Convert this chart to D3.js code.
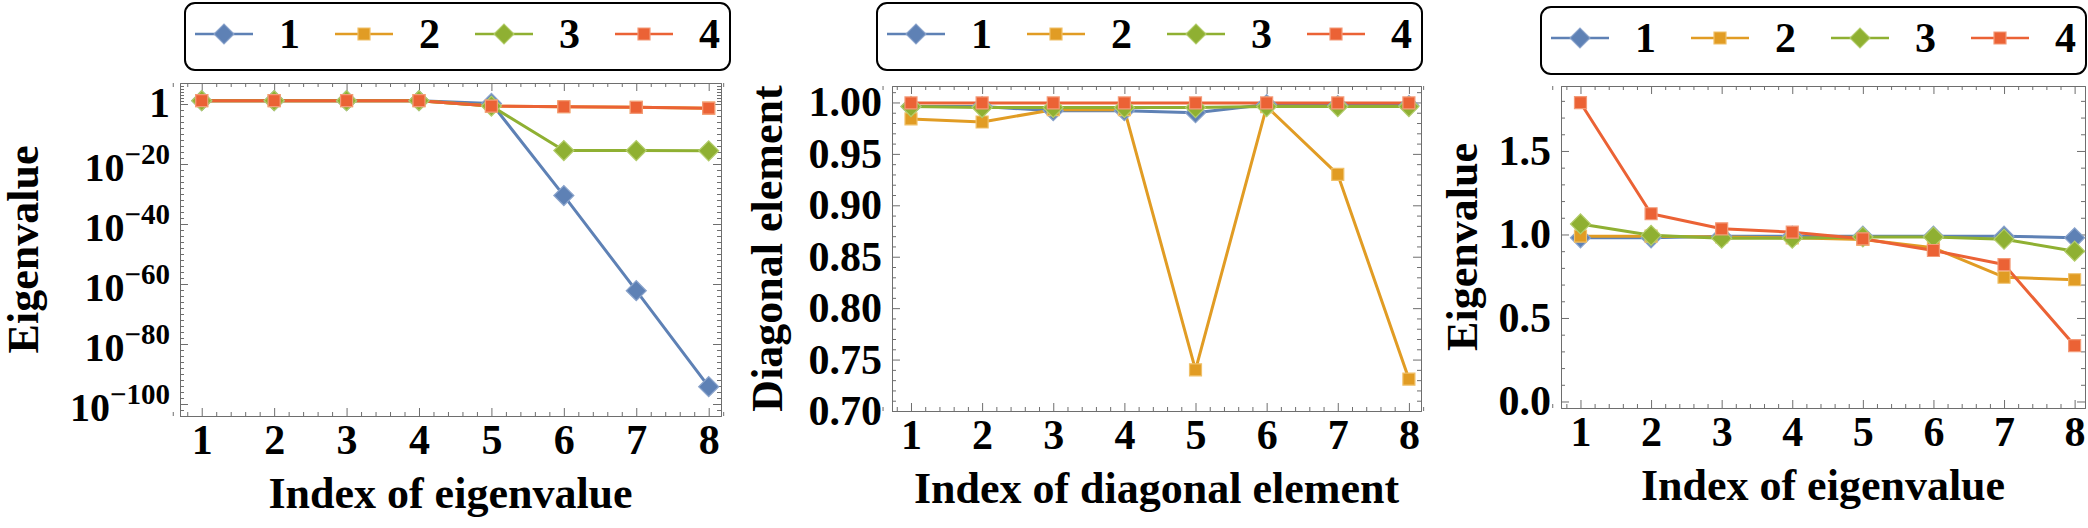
<!DOCTYPE html>
<html>
<head>
<meta charset="utf-8">
<title>Eigenvalues and diagonal elements</title>
<script src="https://cdn.jsdelivr.net/npm/d3@7"></script>
<style>
  body { margin: 0; background: #fff; }
  svg text { font-family: "Liberation Serif", "Times New Roman", serif; font-weight: bold; fill: #000; }
</style>
</head>
<body>
<svg id="chart" width="2088" height="528"></svg>
<script>
// x positions, shared by the three panels
var idx = [1, 2, 3, 4, 5, 6, 7, 8];
var seriesNames = ["1", "2", "3", "4"];
var colors = ["#5e81b5", "#e19c24", "#8fb032", "#eb6235"];
var edgeColors = ["#8aa3cb", "#f0c068", "#b2cc6a", "#f39a78"];
var shapes = ["diamond", "square", "diamond", "square"];

// left panel: eigenvalues (log axis)
var eigLog1 = [13, 13, 13, 13, 1.6, 3e-31, 6e-63, 6e-95];
var eigLog2 = [13, 13, 13, 13, 0.2, 0.12, 0.08, 0.04];
var eigLog3 = [13, 13, 13, 13, 0.2, 3e-16, 3e-16, 2.5e-16];
var eigLog4 = [13, 13, 13, 13, 0.2, 0.12, 0.08, 0.04];
var logTickExp = [0, -20, -40, -60, -80, -100];

// middle panel: diagonal elements
var diag1 = [0.996, 0.996, 0.992, 0.992, 0.990, 0.998, 0.997, 0.997];
var diag2 = [0.984, 0.981, 0.993, 0.993, 0.740, 0.996, 0.930, 0.731];
var diag3 = [0.996, 0.995, 0.995, 0.995, 0.995, 0.996, 0.996, 0.996];
var diag4 = [0.9995, 0.9995, 0.9995, 0.9995, 0.9995, 0.9995, 0.9995, 0.9995];
var diagTicks = [0.70, 0.75, 0.80, 0.85, 0.90, 0.95, 1.00];

// right panel: eigenvalues (linear axis)
var eig1 = [0.98, 0.98, 0.99, 0.99, 0.99, 0.99, 0.99, 0.98];
var eig2 = [0.99, 0.99, 0.985, 0.98, 0.97, 0.92, 0.744, 0.729];
var eig3 = [1.063, 0.995, 0.978, 0.978, 0.985, 0.985, 0.972, 0.90];
var eig4 = [1.789, 1.124, 1.034, 1.014, 0.974, 0.904, 0.820, 0.335];
var eigTicks = [0.0, 0.5, 1.0, 1.5];

var svg = d3.select("#chart");

var xMinor = d3.range(3, 42).filter(function (k) { return k % 5 != 0; }).map(function (k) { return k / 5; });

var panels = [
  {
    series: [eigLog1, eigLog2, eigLog3, eigLog4], log: true,
    left: 180, right: 721, top: 83, bottom: 416,
    xDomain: [0.70, 8.17], yDomain: [1e-104, 1e7],
    yMajor: logTickExp.map(function (e) { return Math.pow(10, e); }),
    yMinor: d3.range(-104, 7).filter(function (e) { return e % 20 != 0 && (e > 0 || e % 2 == 0); })
              .map(function (e) { return Math.pow(10, e); }),
    xTitle: "Index of eigenvalue", yTitle: "Eigenvalue", yTitleX: 38,
    legendX: 185, legendY: 3
  },
  {
    series: [diag1, diag2, diag3, diag4], log: false,
    left: 892, right: 1421, top: 86, bottom: 411,
    xDomain: [0.733, 8.17], yDomain: [0.70, 1.016],
    yMajor: diagTicks,
    yMinor: d3.range(70, 102).filter(function (k) { return k % 5 != 0; }).map(function (k) { return k / 100; }),
    yFormat: d3.format(".2f"),
    xTitle: "Index of diagonal element", yTitle: "Diagonal element", yTitleX: 782,
    legendX: 877, legendY: 3
  },
  {
    series: [eig1, eig2, eig3, eig4], log: false,
    left: 1561, right: 2085, top: 86, bottom: 408,
    xDomain: [0.724, 8.147], yDomain: [-0.039, 1.889],
    yMajor: eigTicks,
    yMinor: d3.range(0, 19).filter(function (k) { return k % 5 != 0; }).map(function (k) { return k / 10; }),
    yFormat: d3.format(".1f"),
    xTitle: "Index of eigenvalue", yTitle: "Eigenvalue", yTitleX: 1477,
    legendX: 1541, legendY: 7
  }
];

function markerPath(shape) {
  if (shape == "diamond") return d3.symbol(d3.symbolSquare, 200)();
  return d3.symbol(d3.symbolSquare, 144)();
}

function drawPanel(p) {
  var g = svg.append("g");
  var x = d3.scaleLinear().domain(p.xDomain).range([p.left, p.right]);
  var y = (p.log ? d3.scaleLog() : d3.scaleLinear()).domain(p.yDomain).range([p.bottom, p.top]);

  // frame: four axes with inward ticks, minor ones first
  var sides = [
    { fn: d3.axisBottom, s: x, major: idx, minor: xMinor, tr: "translate(0," + p.bottom + ")", labels: true },
    { fn: d3.axisTop, s: x, major: idx, minor: xMinor, tr: "translate(0," + p.top + ")" },
    { fn: d3.axisLeft, s: y, major: p.yMajor, minor: p.yMinor, tr: "translate(" + p.left + ",0)", labels: true },
    { fn: d3.axisRight, s: y, major: p.yMajor, minor: p.yMinor, tr: "translate(" + p.right + ",0)" }
  ];
  sides.forEach(function (sd) {
    g.append("g").attr("transform", sd.tr)
      .call(sd.fn(sd.s).tickValues(sd.minor).tickSize(-4).tickSizeOuter(0).tickFormat(""));
    var ax = sd.fn(sd.s).tickValues(sd.major).tickSize(-8).tickSizeOuter(0);
    if (!sd.labels) ax.tickFormat("");
    else if (sd.fn == d3.axisBottom) ax.tickPadding(8).tickFormat(d3.format("d"));
    else ax.tickPadding(10).tickFormat(p.log ? function () { return ""; } : p.yFormat);
    var ag = g.append("g").attr("transform", sd.tr).call(ax);
    ag.selectAll("text").style("font-size", "42px");
    if (sd.labels && p.log && sd.fn == d3.axisLeft) {
      ag.selectAll(".tick text").each(function (d, i) {
        var t = d3.select(this);
        var e = logTickExp[i];
        if (e == 0) {
          t.attr("dy", "0.3em").text("1");
        } else {
          t.style("font-size", "40px").attr("dy", "0.4em");
          t.append("tspan").text("10");
          t.append("tspan").attr("dy", -17).style("font-size", "29px").text("\u2212" + Math.abs(e));
        }
      });
    }
  });
  g.selectAll(".domain, .tick line").attr("stroke", "#6e6e6e").attr("stroke-width", 1);

  // lines, then markers
  var line = d3.line().x(function (d, i) { return x(idx[i]); }).y(function (d) { return y(d); });
  p.series.forEach(function (vals, s) {
    g.append("path").datum(vals).attr("d", line)
      .attr("fill", "none").attr("stroke", colors[s]).attr("stroke-width", 3)
      .attr("stroke-linejoin", "round");
  });
  p.series.forEach(function (vals, s) {
    g.selectAll(null).data(vals).enter().append("path")
      .attr("d", markerPath(shapes[s]))
      .attr("transform", function (d, i) {
        return "translate(" + x(idx[i]) + "," + y(d) + ")" + (shapes[s] == "diamond" ? " rotate(45)" : "");
      })
      .attr("fill", colors[s]).attr("stroke", edgeColors[s]).attr("stroke-width", 1.2);
  });

  // axis titles
  g.append("text").attr("x", (p.left + p.right) / 2).attr("y", p.bottom + 92)
    .attr("text-anchor", "middle").style("font-size", "44px").text(p.xTitle);
  g.append("text").attr("transform", "translate(" + p.yTitleX + "," + (p.top + p.bottom) / 2 + ") rotate(-90)")
    .attr("text-anchor", "middle").style("font-size", "44px").text(p.yTitle);

  // legend box above the frame
  var lg = g.append("g").attr("transform", "translate(" + p.legendX + "," + p.legendY + ")");
  lg.append("rect").attr("x", 0).attr("y", 0).attr("width", 545).attr("height", 67)
    .attr("rx", 10).attr("fill", "#fff").attr("stroke", "#000").attr("stroke-width", 2);
  seriesNames.forEach(function (name, s) {
    var cx = 39 + 140 * s, cy = 31;
    lg.append("line").attr("x1", cx - 29).attr("x2", cx + 29).attr("y1", cy).attr("y2", cy)
      .attr("stroke", colors[s]).attr("stroke-width", 2.4);
    lg.append("path").attr("d", markerPath(shapes[s]))
      .attr("transform", "translate(" + cx + "," + cy + ")" + (shapes[s] == "diamond" ? " rotate(45)" : ""))
      .attr("fill", colors[s]).attr("stroke", edgeColors[s]).attr("stroke-width", 1.2);
    lg.append("text").attr("x", cx + 55).attr("y", cy + 14).style("font-size", "42px").text(name);
  });
}

panels.forEach(drawPanel);
</script>
</body>
</html>
